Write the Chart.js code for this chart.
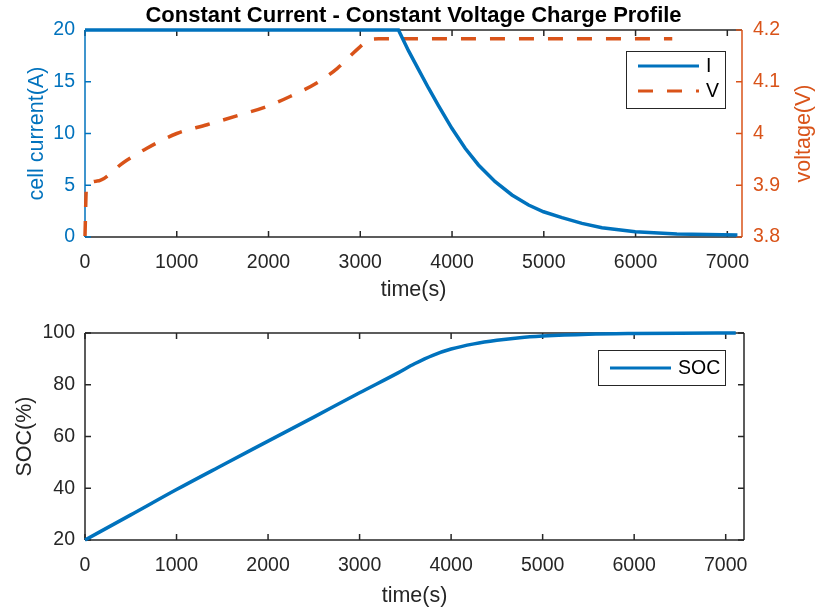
<!DOCTYPE html>
<html lang="en">
<head>
<meta charset="UTF-8">
<title>Constant Current - Constant Voltage Charge Profile</title>
<script src="https://cdn.jsdelivr.net/npm/chart.js"></script>
<style>
body { margin: 0; background: #fff; }
#wrap { position: relative; width: 815px; height: 609px; }
canvas { position: absolute; left: 0; }
#topChart { top: 0; }
#botChart { top: 305px; }
</style>
</head>
<body>
<div id="wrap">
  <canvas id="topChart" width="815" height="305"></canvas>
  <canvas id="botChart" width="815" height="304"></canvas>
</div>
<script>
const FONT = '"Liberation Sans", Arial, Helvetica, sans-serif';
const BLUE = '#0072BD', ORANGE = '#D95319', AX = '#262626';

// data
const timeI   = [0, 3416, 3525, 3634, 3743, 3852, 3998, 4143, 4288, 4470, 4653, 4834, 4997, 5198, 5416, 5634, 5997, 6450, 7110];
const current = [20, 20, 18.0, 16.2, 14.4, 12.7, 10.5, 8.57, 6.96, 5.34, 4.06, 3.09, 2.44, 1.87, 1.32, 0.90, 0.51, 0.29, 0.19];

const timeV   = [0, 15, 130, 420, 670, 1000, 1330, 1690, 1980, 2240, 2530, 2750, 3000, 3110, 3200, 6400];
const voltage = [3.802, 3.893, 3.908, 3.944, 3.971, 4.0, 4.017, 4.036, 4.052, 4.072, 4.098, 4.126, 4.168, 4.182, 4.183, 4.183];

const timeSOC = [0, 500, 1000, 1500, 2000, 2500, 3000, 3420, 3600, 3800, 4000, 4250, 4500, 4750, 5000, 5500, 6000, 6500, 7110];
const soc     = [20, 29.7, 39.5, 48.9, 58.2, 67.5, 76.9, 84.6, 88.1, 91.4, 93.8, 95.8, 97.2, 98.2, 98.8, 99.5, 99.8, 99.95, 100];

const xTicks    = [0, 1000, 2000, 3000, 4000, 5000, 6000, 7000];
const iTicks    = [0, 5, 10, 15, 20];
const vTicks    = [3.8, 3.9, 4.0, 4.1, 4.2];
const socTicks  = [20, 40, 60, 80, 100];

const pts = (xs, ys) => xs.map((x, i) => ({x: x, y: ys[i]}));
const setTicks = arr => s => { s.ticks = arr.map(v => ({value: v})); };
const TL = 6;

function line(ctx, x1, y1, x2, y2) {
  ctx.beginPath(); ctx.moveTo(x1, y1); ctx.lineTo(x2, y2); ctx.stroke();
}

// MATLAB-like box with inward ticks
const framePlugin = {
  id: 'frame',
  beforeDatasetsDraw(chart, args, o) {
    const {ctx, chartArea: a, scales} = chart;
    ctx.save();
    ctx.lineWidth = 1.5;
    ctx.strokeStyle = AX;
    line(ctx, a.left, a.top, a.right, a.top);
    line(ctx, a.left, a.bottom, a.right, a.bottom);
    xTicks.forEach(v => {
      const px = scales.x.getPixelForValue(v);
      line(ctx, px, a.bottom, px, a.bottom - TL);
      line(ctx, px, a.top, px, a.top + TL);
    });
    ctx.strokeStyle = o.leftColor;
    line(ctx, a.left, a.top, a.left, a.bottom);
    o.leftTicks.forEach(v => {
      const py = scales.y.getPixelForValue(v);
      line(ctx, a.left, py, a.left + TL, py);
    });
    ctx.strokeStyle = o.rightColor;
    line(ctx, a.right, a.top, a.right, a.bottom);
    const rs = scales[o.rightScale];
    o.rightTicks.forEach(v => {
      const py = rs.getPixelForValue(v);
      line(ctx, a.right, py, a.right - TL, py);
    });
    ctx.restore();
  },
  afterDatasetsDraw(chart, args, o) {
    const {ctx} = chart;
    ctx.save();
    // legend box
    const L = o.legend;
    ctx.fillStyle = '#fff';
    ctx.fillRect(L.x, L.y, L.w, L.h);
    ctx.strokeStyle = AX;
    ctx.lineWidth = 1;
    ctx.strokeRect(L.x + 0.5, L.y + 0.5, L.w, L.h);
    chart.data.datasets.forEach((ds, i) => {
      const y = L.y + L.first + i * L.step;
      ctx.strokeStyle = ds.borderColor;
      ctx.lineWidth = 3;
      ctx.setLineDash(ds.borderDash || []);
      line(ctx, L.x + 12, y, L.x + 73, y);
      ctx.setLineDash([]);
      ctx.fillStyle = '#000';
      ctx.font = '19.5px ' + FONT;
      ctx.textBaseline = 'middle';
      ctx.textAlign = 'left';
      ctx.fillText(ds.label, L.x + L.textX, y + 1);
    });
    // title
    if (o.title) {
      ctx.fillStyle = '#000';
      ctx.font = 'bold 22px ' + FONT;
      ctx.textAlign = 'center';
      ctx.textBaseline = 'alphabetic';
      ctx.fillText(o.title, (chart.chartArea.left + chart.chartArea.right) / 2, 22);
    }
    // right axis title (reads bottom to top like MATLAB)
    if (o.rightTitle) {
      ctx.translate(810, (chart.chartArea.top + chart.chartArea.bottom) / 2);
      ctx.rotate(-Math.PI / 2);
      ctx.fillStyle = ORANGE;
      ctx.font = '21.5px ' + FONT;
      ctx.textAlign = 'center';
      ctx.textBaseline = 'alphabetic';
      ctx.fillText(o.rightTitle, 0, 0);
    }
    ctx.restore();
  }
};

const tickFont = {family: FONT, size: 19.5};
const labelFont = {family: FONT, size: 21.5};
const noGrid = {display: false, drawTicks: false};

function xScale(max, h, titlePad) {
  return {
    type: 'linear', min: 0, max: max,
    grid: noGrid, border: {display: false},
    afterBuildTicks: setTicks(xTicks),
    afterFit: s => { s.height = h; },
    ticks: {color: AX, font: tickFont, padding: 14, maxRotation: 0, includeBounds: false, callback: v => String(v)},
    title: {display: true, text: 'time(s)', color: AX, font: labelFont, padding: {top: 0, bottom: titlePad}}
  };
}

new Chart(document.getElementById('topChart'), {
  type: 'line',
  data: {
    datasets: [
      {label: 'I', data: pts(timeI, current), yAxisID: 'y', borderColor: BLUE, borderWidth: 3.5, pointRadius: 0, tension: 0, clip: false},
      {label: 'V', data: pts(timeV, voltage), yAxisID: 'y1', borderColor: ORANGE, borderWidth: 3.5, borderDash: [15, 14], pointRadius: 0, cubicInterpolationMode: 'monotone', clip: false}
    ]
  },
  options: {
    responsive: false, animation: false, events: [],
    layout: {padding: {top: 30, left: 0, right: 0, bottom: 0}},
    scales: {
      x: xScale(7160, 305 - 237, 2),
      y: {
        position: 'left', min: 0, max: 20,
        grid: noGrid, border: {display: false},
        afterBuildTicks: setTicks(iTicks),
        afterFit: s => { s.width = 85; },
        ticks: {color: BLUE, font: tickFont, padding: 10},
        title: {display: true, text: 'cell current(A)', color: BLUE, font: labelFont, padding: {top: 24, bottom: 0}}
      },
      y1: {
        position: 'right', min: 3.8, max: 4.2,
        grid: noGrid, border: {display: false},
        afterBuildTicks: setTicks(vTicks),
        afterFit: s => { s.width = 815 - 742; },
        ticks: {color: ORANGE, font: tickFont, padding: 11, callback: v => String(Math.round(v * 10) / 10)}
      }
    },
    plugins: {
      legend: {display: false}, tooltip: {enabled: false},
      frame: {
        leftColor: BLUE, leftTicks: iTicks, rightColor: ORANGE, rightTicks: vTicks, rightScale: 'y1',
        legend: {x: 626, y: 51, w: 99, h: 57, first: 15, step: 25, textX: 80},
        title: 'Constant Current - Constant Voltage Charge Profile',
        rightTitle: 'voltage(V)'
      }
    }
  },
  plugins: [framePlugin]
});

new Chart(document.getElementById('botChart'), {
  type: 'line',
  data: {
    datasets: [
      {label: 'SOC', data: pts(timeSOC, soc), yAxisID: 'y', borderColor: BLUE, borderWidth: 3.5, pointRadius: 0, cubicInterpolationMode: 'monotone', clip: false}
    ]
  },
  options: {
    responsive: false, animation: false, events: [],
    layout: {padding: {top: 28, left: 0, right: 815 - 744, bottom: 0}},
    scales: {
      x: xScale(7200, 304 - 235, 0),
      y: {
        position: 'left', min: 20, max: 100,
        grid: noGrid, border: {display: false},
        afterBuildTicks: setTicks(socTicks),
        afterFit: s => { s.width = 85; },
        ticks: {color: AX, font: tickFont, padding: 10},
        title: {display: true, text: 'SOC(%)', color: AX, font: labelFont, padding: {top: 12, bottom: 0}}
      }
    },
    plugins: {
      legend: {display: false}, tooltip: {enabled: false},
      frame: {
        leftColor: AX, leftTicks: socTicks, rightColor: AX, rightTicks: socTicks, rightScale: 'y',
        legend: {x: 598, y: 45, w: 127, h: 35, first: 18, step: 0, textX: 80}
      }
    }
  },
  plugins: [framePlugin]
});
</script>
</body>
</html>
